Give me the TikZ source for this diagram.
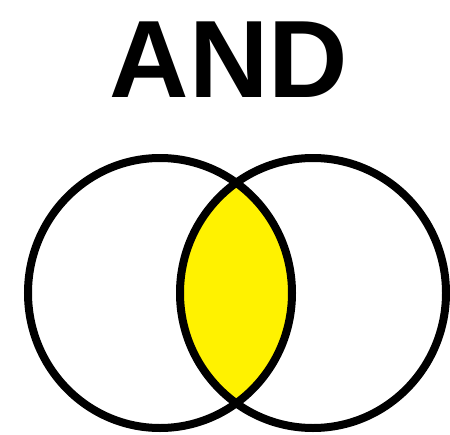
\documentclass[tikz,border=0pt]{standalone}
\usepackage{fontspec}
\setmainfont{Liberation Sans}
\definecolor{lensyellow}{RGB}{255,242,0}
\begin{document}
\begin{tikzpicture}[x=1pt,y=-1pt,
  ring/.style={draw=black,line width=8pt},
  title/.style={font=\fontsize{110}{110}\selectfont\bfseries,inner sep=0pt,anchor=base}]
\useasboundingbox (0,0) rectangle (450,434);
\fill[white] (0,0) rectangle (450,434);
\node[title] (t) at (229,97) {AND};
\coordinate (cl) at (160,293);
\coordinate (cr) at (313,293);
\begin{scope}
  \clip (cl) ellipse [x radius=132, y radius=135];
  \fill[lensyellow] (cr) ellipse [x radius=133, y radius=135];
\end{scope}
\draw[ring] (cl) ellipse [x radius=132, y radius=135];
\draw[ring] (cr) ellipse [x radius=133, y radius=135];
\end{tikzpicture}
\end{document}
